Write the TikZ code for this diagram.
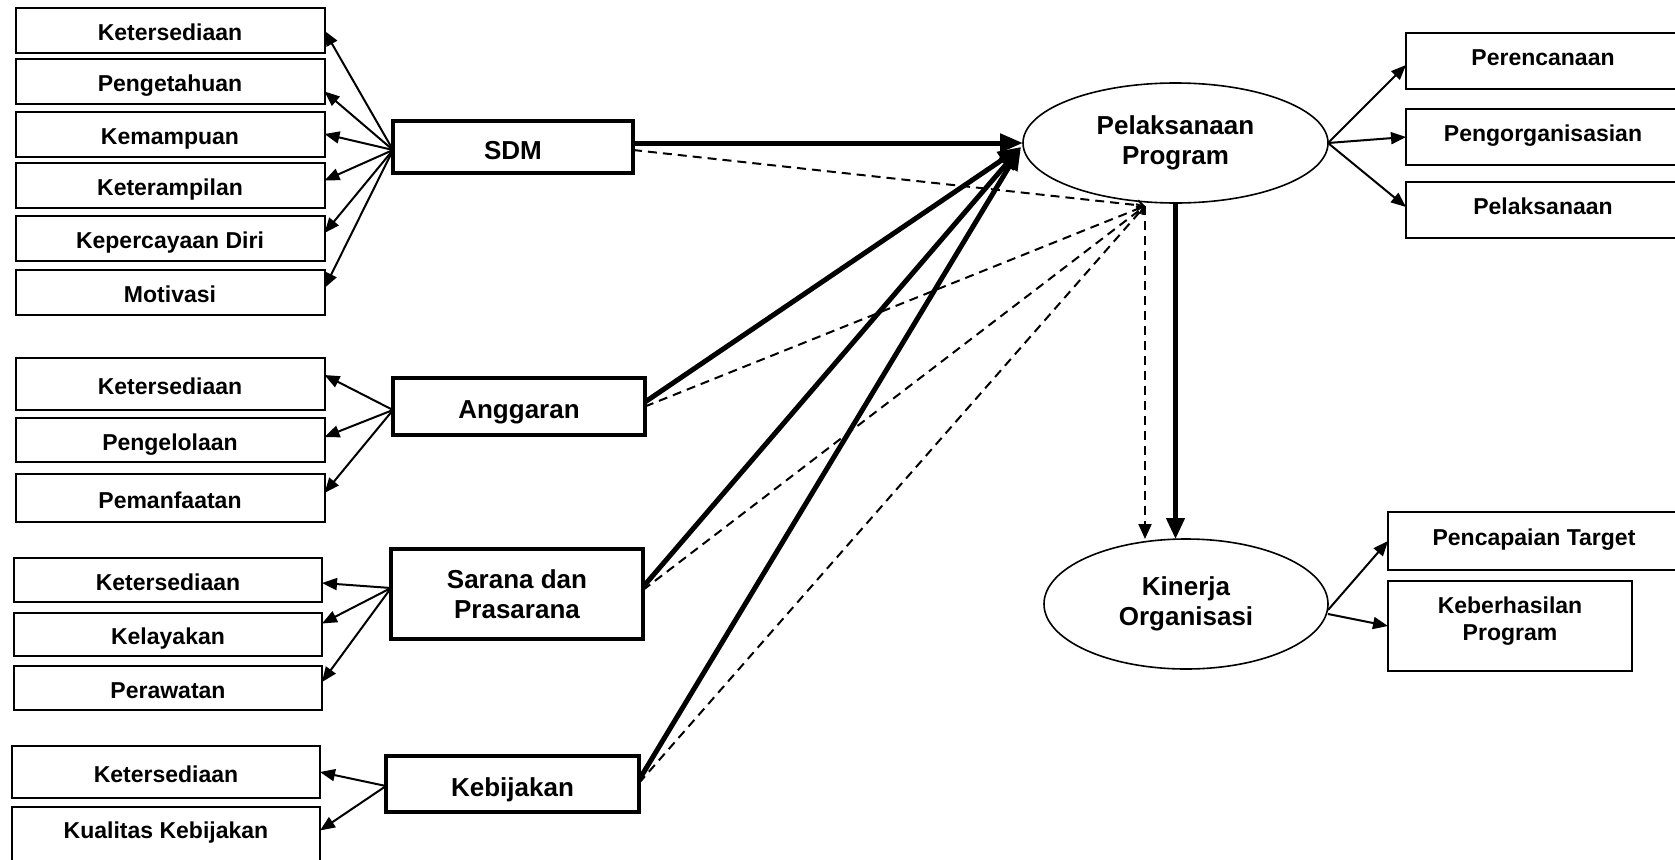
\documentclass[tikz,border=0pt]{standalone}
\usepackage{fontspec}
\setmainfont{Liberation Sans}
\usetikzlibrary{arrows.meta,shapes.geometric}
\begin{document}
\begin{tikzpicture}[x=1pt,y=-1pt,
  sbox/.style={draw, line width=2pt, inner sep=0pt, outer sep=0pt, minimum width=309pt, minimum height=45pt,
    font=\fontsize{23}{27}\selectfont\bfseries, text height=20pt, text depth=0pt},
  rbox/.style={draw, line width=2pt, inner sep=0pt, outer sep=0pt, minimum width=274pt, minimum height=56pt,
    font=\fontsize{23}{27}\selectfont\bfseries, text height=16.5pt, text depth=7pt},
  bbox/.style={draw, line width=4.5pt, inner sep=0pt, outer sep=0pt,
    font=\fontsize{26}{30}\selectfont\bfseries, align=center},
  btext/.style={text height=24.6pt, text depth=0pt},
  ell/.style={draw, ellipse, line width=1.6pt, inner sep=0pt, outer sep=0pt,
    font=\fontsize{26}{30}\selectfont\bfseries, align=center},
  thinarr/.style={line width=2pt, -{Triangle[length=15pt,width=12pt]}},
  thickarr/.style={line width=5pt, -{Triangle[length=23pt,width=18pt]}},
  dsh/.style={line width=2pt, dash pattern=on 9pt off 6pt},
]
\useasboundingbox (0,0) rectangle (1675,859);
\clip (0,0) rectangle (1675,859);

% SDM indicators
\node[sbox] (K1) at (170,30.75) {Ketersediaan};
\node[sbox] (P1) at (170,81.5) {Pengetahuan};
\node[sbox] (Km) at (170,134) {Kemampuan};
\node[sbox] (Kt) at (170,185.5) {Keterampilan};
\node[sbox] (KD) at (170,238) {Kepercayaan Diri};
\node[sbox] (Mo) at (170,292) {Motivasi};

% Anggaran indicators
\node[sbox, minimum height=52pt] (A1) at (170,384) {Ketersediaan};
\node[sbox, minimum height=44pt] (A2) at (170,440) {Pengelolaan};
\node[sbox, minimum height=48pt] (A3) at (170,498) {Pemanfaatan};

% Sarana indicators
\node[sbox, minimum width=308pt, minimum height=44pt] (S1) at (168,580) {Ketersediaan};
\node[sbox, minimum width=308pt, minimum height=43pt] (S2) at (168,634.5) {Kelayakan};
\node[sbox, minimum width=308pt, minimum height=44pt] (S3) at (168,688) {Perawatan};

% Kebijakan indicators
\node[sbox, minimum width=308pt, minimum height=52pt] (B1) at (166,772) {Ketersediaan};
\node[sbox, minimum width=308pt, minimum height=63pt, text height=16.5pt, text depth=17pt] (B2) at (166,838.5) {Kualitas Kebijakan};

% main variables
\node[bbox, btext, minimum width=240pt, minimum height=52pt] (SDM) at (513,147) {SDM};
\node[bbox, btext, minimum width=252pt, minimum height=57pt] (Ang) at (519,406.5) {Anggaran};
\node[bbox, minimum width=252pt, minimum height=90pt] (Sar) at (517,594) {Sarana dan\\Prasarana};
\node[bbox, btext, minimum width=253pt, minimum height=56pt] (Keb) at (512.5,784) {Kebijakan};

\node[ell, minimum width=305pt, minimum height=120pt] (PP) at (1175.5,143) {Pelaksanaan\\Program};
\node[ell, minimum width=284pt, minimum height=130pt] (KO) at (1186,604) {Kinerja\\Organisasi};

% right indicators
\node[rbox] (R1) at (1543,61) {Perencanaan};
\node[rbox] (R2) at (1543,137) {Pengorganisasian};
\node[rbox] (R3) at (1543,210) {Pelaksanaan};
\node[rbox, minimum width=292pt, minimum height=58pt] (T1) at (1534,541) {Pencapaian Target};
\node[rbox, minimum width=244pt, minimum height=90pt, align=center, text height=43.8pt, text depth=14pt] (T2) at (1510,626) {Keberhasilan\\Program};

% fans
\draw[thinarr] ([yshift=-3pt]SDM.west) -- (K1.east);
\draw[thinarr] ([yshift=-3pt]SDM.west) -- ([yshift=-10pt]P1.east);
\draw[thinarr] ([yshift=-3pt]SDM.west) -- (Km.east);
\draw[thinarr] ([yshift=-3pt]SDM.west) -- ([yshift=5pt]Kt.east);
\draw[thinarr] ([yshift=-3pt]SDM.west) -- ([yshift=5pt]KD.east);
\draw[thinarr] ([yshift=-3pt]SDM.west) -- ([yshift=4pt]Mo.east);

\draw[thinarr] ([yshift=-3.5pt]Ang.west) -- ([yshift=9pt]A1.east);
\draw[thinarr] ([yshift=-3.5pt]Ang.west) -- ([yshift=3pt]A2.east);
\draw[thinarr] ([yshift=-3.5pt]Ang.west) -- ([yshift=5pt]A3.east);

\draw[thinarr] ([yshift=6pt]Sar.west) -- ([yshift=-3pt]S1.east);
\draw[thinarr] ([yshift=6pt]Sar.west) -- ([yshift=11pt]S2.east);
\draw[thinarr] ([yshift=6pt]Sar.west) -- ([yshift=6pt]S3.east);

\draw[thinarr] ([yshift=-2pt]Keb.west) -- (B1.east);
\draw[thinarr] ([yshift=-2pt]Keb.west) -- ([yshift=8pt]B2.east);

\draw[thinarr] (PP.east) -- ([yshift=-4pt]R1.west);
\draw[thinarr] (PP.east) -- (R2.west);
\draw[thinarr] (PP.east) -- ([yshift=3pt]R3.west);

\draw[thinarr] ([yshift=-6pt]KO.east) -- (T1.west);
\draw[thinarr] ([yshift=-10pt]KO.east) -- (T2.west);

% main thick arrows
\coordinate (tin) at (1021,147);
\draw[thickarr] ([yshift=4pt]SDM.east) -- (PP.west);
\draw[thickarr] ([yshift=4.5pt]Ang.east) -- (tin);
\draw[thickarr] ([yshift=7pt]Sar.east) -- (tin);
\draw[thickarr] ([yshift=4pt]Keb.east) -- (tin);

% dashed (moderated) paths
\coordinate (conv) at (1145,206);
\draw[dsh, -{Straight Barb[length=6pt,width=10pt]}] ([yshift=-3pt]SDM.east) -- (conv);
\draw[dsh, -{Straight Barb[length=6pt,width=10pt]}] (Ang.east) -- (conv);
\draw[dsh, -{Straight Barb[length=6pt,width=10pt]}] ([yshift=4pt]Sar.east) -- (conv);
\draw[dsh, -{Straight Barb[length=6pt,width=10pt]}] ([yshift=1pt]Keb.east) -- (conv);
\draw[dsh, -{Triangle[length=15pt,width=13pt]}] (conv) -- (conv |- KO.north);

\draw[thickarr, line width=4.5pt, -{Triangle[length=21pt,width=18pt]}] (PP.south) -- (PP.south |- KO.north);
\end{tikzpicture}
\end{document}
